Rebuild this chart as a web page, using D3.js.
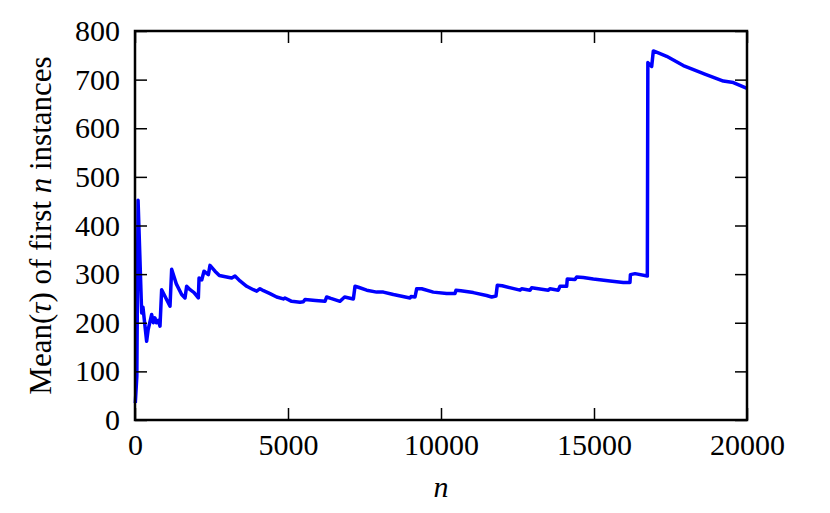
<!DOCTYPE html>
<html>
<head>
<meta charset="utf-8">
<script src="https://cdn.jsdelivr.net/npm/d3@7"></script>
<style>
  body { margin: 0; background: #fff; }
  svg text { font-family: "Liberation Serif", "DejaVu Serif", serif; fill: #000; }
</style>
</head>
<body>
<div id="chart"></div>
<script>
var width = 830, height = 513
var margin = {top: 31, right: 83, bottom: 93, left: 135}

// values: n (instances) and running mean of tau
var nValues = [10, 60, 100, 218, 260, 380, 430, 545, 600, 650, 700, 760, 817, 871, 1144, 1198, 1350, 1525, 1634, 1688, 1800, 1930, 2070, 2093, 2180, 2255, 2330, 2397, 2451, 2614, 2756, 2996, 3160, 3268, 3431, 3650, 3868, 3977, 4085, 4200, 4412, 4630, 4847, 4900, 5120, 5392, 5500, 5556, 5900, 6209, 6264, 6400, 6700, 6780, 6850, 7136, 7190, 7300, 7572, 7899, 8117, 8444, 8987, 9020, 9151, 9206, 9369, 9749, 10185, 10457, 10490, 10650, 11055, 11490, 11656, 11797, 11840, 12000, 12582, 12636, 12909, 12963, 13507, 13560, 13834, 13889, 14107, 14127, 14379, 14434, 14650, 14978, 15523, 15958, 16176, 16190, 16340, 16743, 16760, 16885, 16939, 17102, 17374, 17918, 18519, 18600, 19226, 19553, 20000]
var meanTau = [35, 90, 452, 220, 232, 162, 186, 217, 200, 210, 200, 205, 193, 268, 234, 310, 280, 258, 251, 275, 268, 262, 251, 292, 288, 306, 302, 299, 318, 306, 297, 294, 292, 296, 286, 275, 268, 265, 270, 266, 260, 253, 249, 251, 244, 242, 243, 248, 246, 244, 253, 250, 244, 249, 253, 249, 275, 273, 267, 263, 263, 258, 251, 254, 253, 270, 270, 263, 260, 260, 267, 266, 262, 256, 253, 255, 277, 276, 267, 270, 267, 272, 267, 270, 267, 275, 275, 290, 289, 294, 293, 290, 286, 283, 283, 299, 301, 296, 735, 727, 759, 755, 748, 729, 714, 712, 697, 694, 682]

var xTicks = [0, 5000, 10000, 15000, 20000]
var yTicks = [0, 100, 200, 300, 400, 500, 600, 700, 800]

var data = nValues.map(function(n, i) { return {n: n, v: meanTau[i]} })

var w = width - margin.left - margin.right,
    h = height - margin.top - margin.bottom

var svg = d3.select("#chart").append("svg")
    .attr("width", width)
    .attr("height", height)

var g = svg.append("g")
    .attr("transform", "translate(" + margin.left + "," + margin.top + ")")

var x = d3.scaleLinear().domain([0, 20000]).range([0, w])
var y = d3.scaleLinear().domain([0, 800]).range([h, 0])

var tickLen = 12

// line first, frame drawn over it
var line = d3.line()
    .x(function(d) { return x(d.n) })
    .y(function(d) { return y(d.v) })

g.append("path")
    .datum(data)
    .attr("d", line)
    .attr("fill", "none")
    .attr("stroke", "#0000ff")
    .attr("stroke-width", 3.5)
    .attr("stroke-linejoin", "round")

// axes with inward ticks on all sides
g.append("g")
    .attr("transform", "translate(0," + h + ")")
    .call(d3.axisBottom(x).tickValues(xTicks).tickFormat(d3.format("d")).tickSizeInner(-tickLen).tickSizeOuter(0).tickPadding(14))
    .call(function(a) { a.select(".domain").remove() })
    .selectAll("text").style("font-size", "30px").attr("dy", "0.71em")

g.append("g")
    .call(d3.axisTop(x).tickValues(xTicks).tickSizeInner(-tickLen).tickSizeOuter(0).tickFormat(""))
    .call(function(a) { a.select(".domain").remove() })

g.append("g")
    .call(d3.axisLeft(y).tickValues(yTicks).tickSizeInner(-tickLen).tickSizeOuter(0).tickPadding(15))
    .call(function(a) { a.select(".domain").remove() })
    .selectAll("text").style("font-size", "30px")

g.append("g")
    .attr("transform", "translate(" + w + ",0)")
    .call(d3.axisRight(y).tickValues(yTicks).tickSizeInner(-tickLen).tickSizeOuter(0).tickFormat(""))
    .call(function(a) { a.select(".domain").remove() })

g.selectAll(".tick line").attr("stroke", "#000").attr("stroke-width", 1.5)

g.append("rect")
    .attr("width", w)
    .attr("height", h)
    .attr("fill", "none")
    .attr("stroke", "#000")
    .attr("stroke-width", 2.5)

// axis titles
svg.append("text")
    .attr("x", margin.left + w / 2)
    .attr("y", 497)
    .attr("text-anchor", "middle")
    .style("font-size", "30px")
    .style("font-style", "italic")
    .text("n")

var yl = svg.append("text")
    .attr("transform", "translate(51," + (margin.top + h / 2) + ") rotate(-90)")
    .attr("text-anchor", "middle")
    .style("font-size", "31px")
yl.append("tspan").text("Mean(")
yl.append("tspan").style("font-style", "italic").text("τ")
yl.append("tspan").text(") of first ")
yl.append("tspan").style("font-style", "italic").text("n")
yl.append("tspan").text(" instances")
</script>
</body>
</html>
